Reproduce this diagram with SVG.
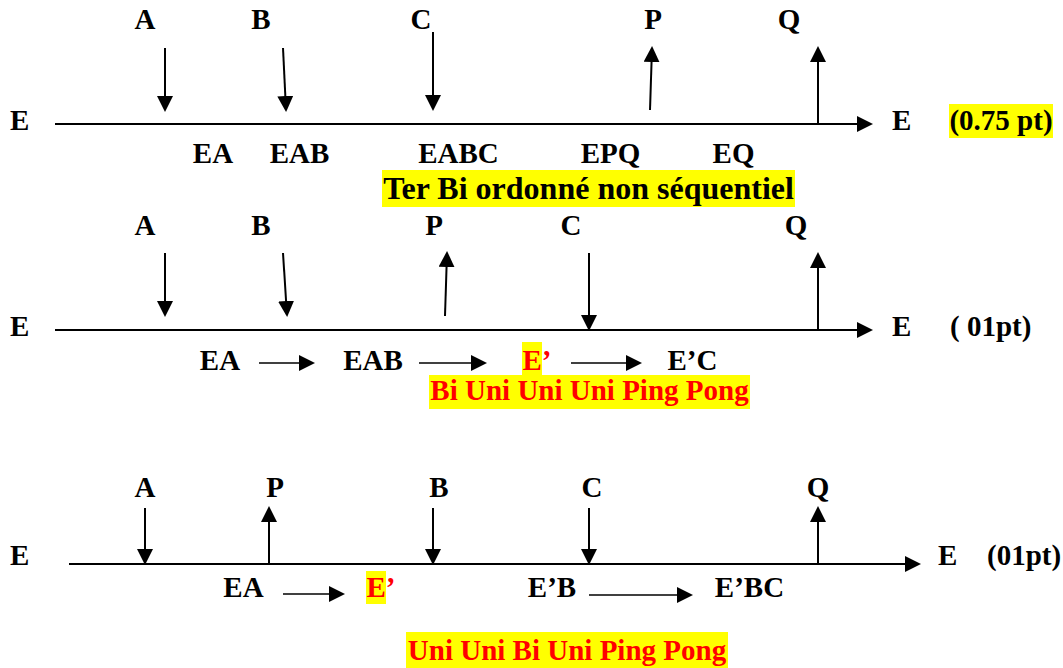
<svg xmlns="http://www.w3.org/2000/svg" width="1063" height="668" viewBox="0 0 1063 668">
<defs>
<marker id="ah" viewBox="0 0 16 16" markerWidth="16" markerHeight="16" refX="14" refY="8" orient="auto" markerUnits="userSpaceOnUse">
<path d="M0,0 L16,8 L0,16 z" fill="#000"/>
</marker>
<style>
text{font-weight:bold;font-size:29px;fill:#000}
.m{text-anchor:middle}
.red{fill:#ff0000}
.cap1{font-size:32px}
.hl{fill:#ffff00}
.ar{stroke:#000;stroke-width:2;fill:none;marker-end:url(#ah)}
.sa{stroke:#000;stroke-width:1.6;fill:none;marker-end:url(#ah)}
</style>
</defs>
<rect width="1063" height="668" fill="#fff"/>

<g id="connectors">
<line class="ar" x1="55" y1="124" x2="871" y2="124"/>
<line class="ar" x1="165" y1="48" x2="165" y2="110"/>
<line class="ar" x1="283" y1="48" x2="286" y2="110"/>
<line class="ar" x1="433" y1="32" x2="433" y2="109"/>
<line class="ar" x1="650" y1="110" x2="652" y2="48"/>
<line class="ar" x1="818" y1="124" x2="818" y2="48"/>
<line class="ar" x1="55" y1="330" x2="871" y2="330"/>
<line class="ar" x1="165" y1="253" x2="165" y2="315"/>
<line class="ar" x1="283" y1="253" x2="287" y2="315"/>
<line class="ar" x1="445" y1="316" x2="447" y2="253"/>
<line class="ar" x1="589" y1="253" x2="589" y2="329"/>
<line class="ar" x1="818" y1="330" x2="818" y2="254"/>
<line class="sa" x1="259" y1="363" x2="313" y2="363"/>
<line class="sa" x1="419" y1="363" x2="485" y2="363"/>
<line class="sa" x1="571" y1="363" x2="640" y2="363"/>
<line class="ar" x1="69" y1="564" x2="919" y2="564"/>
<line class="ar" x1="145" y1="508" x2="145" y2="563"/>
<line class="ar" x1="269" y1="564" x2="269" y2="508"/>
<line class="ar" x1="433" y1="508" x2="433" y2="563"/>
<line class="ar" x1="589" y1="508" x2="589" y2="563"/>
<line class="ar" x1="818" y1="564" x2="818" y2="508"/>
<line class="sa" x1="283" y1="594" x2="343" y2="594"/>
<line class="sa" x1="589" y1="595" x2="691" y2="595"/>
</g>

<g font-family="'Liberation Serif', 'Times New Roman', 'DejaVu Serif', serif">
<g id="s1-A"><text class="m" x="145" y="29">A</text></g>
<g id="s1-B"><text class="m" x="261" y="29">B</text></g>
<g id="s1-C"><text class="m" x="421" y="29">C</text></g>
<g id="s1-P"><text class="m" x="653" y="29">P</text></g>
<g id="s1-Q"><text class="m" x="789" y="29">Q</text></g>
<g id="s1-Eleft"><text x="10" y="130">E</text></g>
<g id="s1-Eright"><text x="892" y="130">E</text></g>
<g id="s1-pts"><rect class="hl" x="949" y="104" width="104" height="34"/><text class="m" x="1001" y="130">(0.75 pt)</text></g>
<g id="s1-EA"><text class="m" x="213" y="163">EA</text></g>
<g id="s1-EAB"><text class="m" x="299.5" y="163">EAB</text></g>
<g id="s1-EABC"><text class="m" x="458.5" y="163">EABC</text></g>
<g id="s1-EPQ"><text class="m" x="610.5" y="163">EPQ</text></g>
<g id="s1-EQ"><text class="m" x="733.5" y="163">EQ</text></g>
<g id="s1-caption"><rect class="hl" x="382" y="170" width="413" height="37"/><text class="m cap1" x="588.5" y="199">Ter Bi ordonné non séquentiel</text></g>

<g id="s2-A"><text class="m" x="145" y="235">A</text></g>
<g id="s2-B"><text class="m" x="261" y="235">B</text></g>
<g id="s2-P"><text class="m" x="434" y="235">P</text></g>
<g id="s2-C"><text class="m" x="571" y="235">C</text></g>
<g id="s2-Q"><text class="m" x="796" y="235">Q</text></g>
<g id="s2-Eleft"><text x="10" y="336">E</text></g>
<g id="s2-Eright"><text x="892" y="336">E</text></g>
<g id="s2-pts"><text x="950" y="336">( 01pt)</text></g>
<g id="s2-EA"><text class="m" x="220" y="370">EA</text></g>
<g id="s2-EAB"><text class="m" x="373" y="370">EAB</text></g>
<g id="s2-Ep"><rect class="hl" x="522" y="342" width="20" height="33"/><text class="red" x="522.5" y="370">E’</text></g>
<g id="s2-EpC"><text class="m" x="692.5" y="370">E’C</text></g>
<g id="s2-caption"><rect class="hl" x="429" y="375" width="321" height="34"/><text class="m red" x="589.5" y="400">Bi Uni Uni Uni Ping Pong</text></g>

<g id="s3-A"><text class="m" x="145" y="497">A</text></g>
<g id="s3-P"><text class="m" x="275" y="497">P</text></g>
<g id="s3-B"><text class="m" x="439" y="497">B</text></g>
<g id="s3-C"><text class="m" x="592" y="497">C</text></g>
<g id="s3-Q"><text class="m" x="818" y="497">Q</text></g>
<g id="s3-Eleft"><text x="10" y="565">E</text></g>
<g id="s3-Eright"><text x="938" y="565">E</text></g>
<g id="s3-pts"><text x="987" y="565">(01pt)</text></g>
<g id="s3-EA"><text class="m" x="243.5" y="597">EA</text></g>
<g id="s3-Ep"><rect class="hl" x="366" y="571" width="20" height="33"/><text class="red" x="366.5" y="597">E’</text></g>
<g id="s3-EpB"><text class="m" x="552" y="597">E’B</text></g>
<g id="s3-EpBC"><text class="m" x="749.5" y="597">E’BC</text></g>
<g id="s3-caption"><rect class="hl" x="406" y="632" width="322" height="36"/><text class="m red" x="567" y="660">Uni Uni Bi Uni Ping Pong</text></g>
</g>
</svg>
